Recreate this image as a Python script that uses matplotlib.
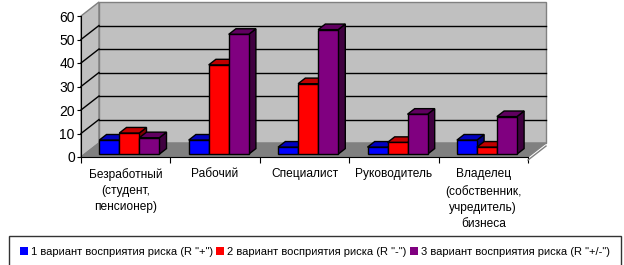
import matplotlib
matplotlib.use('Agg')
import matplotlib.pyplot as plt
from matplotlib import font_manager as fm
from matplotlib.patches import Polygon, Patch

# data
categories = ['Безработный\n(студент,\nпенсионер)', 'Рабочий', 'Специалист',
              'Руководитель', 'Владелец\n(собственник,\nучредитель)\nбизнеса']
series_names = ['1 вариант восприятия риска (R "+")',
                '2 вариант восприятия риска (R "-")',
                '3 вариант восприятия риска (R "+/-")']
variant1 = [6, 6, 3, 3, 6]
variant2 = [9, 38, 30, 5, 3]
variant3 = [7, 51, 53, 17, 16]
y_ticks = [0, 10, 20, 30, 40, 50, 60]

# front, top, side colours for each series
colors = [('#0000FF', '#0000C0', '#000080'),
          ('#FF0000', '#C00000', '#800000'),
          ('#800080', '#600060', '#400040')]

# narrow font if there is one
installed = {f.name for f in fm.fontManager.ttflist}
narrow = 'Liberation Sans Narrow' in installed
plt.rcParams['font.family'] = ['Liberation Sans Narrow' if narrow else 'Liberation Sans', 'DejaVu Sans']
fs_small = 9.5 if narrow else 8.0

W, H = 624, 265
fig = plt.figure(figsize=(W / 100, H / 100), dpi=100)
# front plane of the plot: x 81..528 px, y 157 (0) .. 16 (60) px
ax = fig.add_axes([81 / W, (H - 157) / H, (528 - 81) / W, (157 - 16) / H])
n = len(categories)
ymax = y_ticks[-1]
ax.set_xlim(0, n)
ax.set_ylim(0, ymax)

# depth of the 3d box in data units
px_x = (528 - 81) / n
px_y = (157 - 16) / ymax
DX = 18 / px_x
DY = 14 / px_y

# walls and floor
ax.add_patch(Polygon([(0, 0), (DX, DY), (DX, ymax + DY), (0, ymax)],
                     closed=True, fc='#C0C0C0', ec='#808080', lw=1, clip_on=False, zorder=1))
ax.add_patch(Polygon([(DX, DY), (n + DX, DY), (n + DX, ymax + DY), (DX, ymax + DY)],
                     closed=True, fc='#C0C0C0', ec='#808080', lw=1, clip_on=False, zorder=1))
ax.add_patch(Polygon([(0, 0), (n, 0), (n + DX, DY), (DX, DY)],
                     closed=True, fc='#808080', ec='#808080', lw=1, clip_on=False, zorder=2))
# floor thickness on the right
ax.plot([n, n + DX], [-1.3, DY - 1.3], color='#808080', lw=1, clip_on=False, zorder=2)

for v in y_ticks[1:-1]:
    ax.plot([DX, n + DX], [v + DY, v + DY], color='black', lw=1, clip_on=False, zorder=3)
    ax.plot([0, DX], [v, v + DY], color='black', lw=1, clip_on=False, zorder=3)

# bars
series = [variant1, variant2, variant3]
bw = 20 / px_x
f0, f1 = 0.2, 0.6
bdx, bdy = (f1 - f0) * DX, (f1 - f0) * DY
z = 10
for i in range(n):
    for j, vals in enumerate(series):
        h = vals[i]
        x0 = i + 0.5 - 1.5 * bw + j * bw + f0 * DX
        y0 = f0 * DY
        front, top, side = colors[j]
        ax.add_patch(Polygon([(x0 + bw, y0), (x0 + bw, y0 + h), (x0 + bw + bdx, y0 + h + bdy),
                              (x0 + bw + bdx, y0 + bdy)], closed=True, fc=side, ec='black',
                             lw=1, clip_on=False, zorder=z))
        ax.add_patch(Polygon([(x0, y0 + h), (x0 + bw, y0 + h), (x0 + bw + bdx, y0 + h + bdy),
                              (x0 + bdx, y0 + h + bdy)], closed=True, fc=top, ec='black',
                             lw=1, clip_on=False, zorder=z))
        ax.bar(x0, h, bw, bottom=y0, align='edge', color=front, edgecolor='black',
               lw=1, clip_on=False, zorder=z)
        z += 1

# axes
for s in ['top', 'right']:
    ax.spines[s].set_visible(False)
ax.spines['left'].set_zorder(50)
ax.spines['bottom'].set_zorder(50)
ax.set_facecolor('none')
ax.set_yticks(y_ticks)
ax.tick_params(axis='y', length=3, pad=1.5, labelsize=10)
ax.set_xticks(range(n + 1))
ax.set_xticklabels([])
ax.tick_params(axis='x', which='major', length=4)
ax.set_xticks([i + 0.5 for i in range(n)], minor=True)
ax.set_xticklabels(categories, minor=True, fontsize=8.6, va='top', linespacing=1.45)
ax.tick_params(axis='x', which='minor', length=0, pad=8)

handles = [Patch(fc=c[0], ec='none') for c in colors]
leg = fig.legend(handles, series_names, loc='upper left', ncol=3,
                 bbox_to_anchor=(9 / W, 0, (621 - 9) / W, 1 - 236 / H), mode='expand',
                 fontsize=fs_small, frameon=True, fancybox=False, edgecolor='black',
                 handlelength=0.7, handleheight=0.7, handletextpad=0.3, columnspacing=0.3,
                 borderpad=1.0, borderaxespad=0)
leg.get_frame().set_linewidth(1)

fig.savefig('out.png', dpi=100)
